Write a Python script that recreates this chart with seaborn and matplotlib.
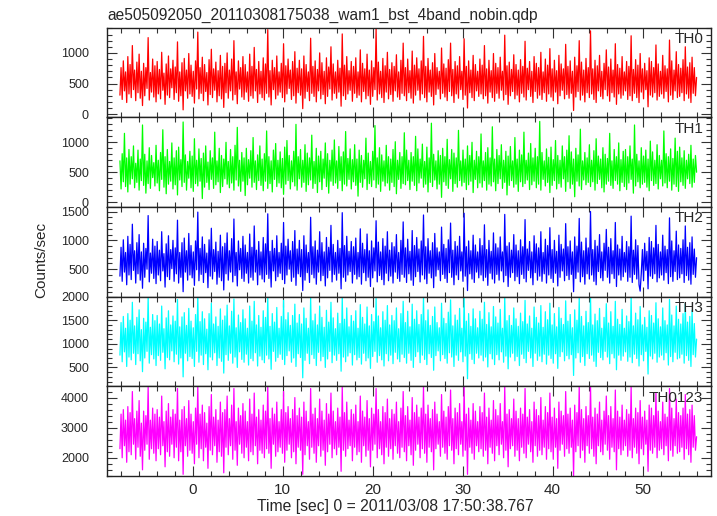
import numpy as np
import matplotlib
matplotlib.use("Agg")
import matplotlib.pyplot as plt
from matplotlib.ticker import MultipleLocator
import seaborn as sns

# light curve, time in sec from 2011/03/08 17:50:38.767
t_start = -8.08
t_stop = 56.0

title = "ae505092050_20110308175038_wam1_bst_4band_nobin.qdp"
band_names = ["TH0", "TH1", "TH2", "TH3", "TH0123"]
band_colors = ["#ff0000", "#00ff00", "#0000ff", "#00ffff", "#ff00ff"]

th0 = [
    310, 760, 240, 870, 380, 690, 190, 940, 330, 810, 270, 1120, 400, 720, 220, 850,
    350, 980, 260, 700, 140, 830, 300, 760, 420, 1250, 230, 680, 360, 900, 280, 790,
    200, 860, 330, 730, 250, 1010, 390, 670, 160, 820, 310, 950, 270, 740, 430, 880,
    240, 770, 350, 1180, 210, 690, 300, 840, 70, 910, 380, 720, 260, 990, 330, 800,
    290, 700, 180, 870, 410, 1340, 250, 760, 340, 930, 220, 810, 370, 680, 150, 890,
    320, 1060, 270, 740, 390, 850, 200, 710, 300, 960, 250, 780, 110, 830, 350, 1000,
    260, 720, 380, 900, 230, 1200, 320, 690, 170, 870, 410, 760, 280, 940, 240, 810,
    360, 690, 210, 980, 300, 780, 260, 1090, 380, 730, 190, 860, 330, 700, 270, 920,
    230, 820, 340, 1380, 280, 710, 150, 880, 400, 760, 250, 950, 310, 690, 360, 830,
    270, 1150, 200, 790, 330, 900, 420, 720, 240, 860, 300, 1020, 180, 750, 350, 880,
    310, 740, 90, 950, 260, 810, 370, 690, 220, 1240, 340, 780, 290, 870, 200, 730,
    380, 1000, 250, 840, 320, 700, 170, 920, 290, 770, 410, 1100, 230, 820, 340, 690,
    260, 880, 360, 750, 130, 1310, 300, 800, 240, 940, 330, 710, 390, 860, 210, 780,
    340, 920, 270, 690, 310, 1050, 200, 830, 370, 740, 250, 980, 300, 720, 160, 870,
    290, 760, 400, 1390, 230, 850, 330, 700, 270, 910, 190, 790, 360, 1010, 250, 730,
    320, 840, 210, 780, 380, 970, 280, 690, 240, 880, 340, 1160, 300, 760, 220, 900,
    350, 710, 260, 1030, 180, 800, 310, 920, 390, 740, 230, 870, 330, 1270, 270, 780,
    200, 910, 360, 720, 290, 840, 150, 990, 320, 760, 410, 700, 250, 1080, 340, 820,
    280, 750, 220, 890, 370, 1160, 300, 730, 190, 860, 330, 790, 260, 940, 400, 700,
    240, 1230, 310, 780, 100, 870, 350, 720, 270, 960, 220, 810, 380, 700, 290, 900,
    330, 800, 250, 1120, 300, 740, 180, 880, 360, 710, 270, 990, 210, 830, 340, 760,
    260, 930, 390, 700, 230, 1290, 320, 790, 160, 850, 300, 730, 370, 970, 250, 810,
    310, 720, 200, 890, 340, 780, 280, 1190, 230, 750, 400, 860, 290, 700, 190, 940,
    370, 830, 260, 760, 310, 1010, 240, 690, 350, 900, 210, 800, 330, 1070, 280, 740,
    220, 880, 360, 710, 170, 960, 300, 820, 390, 740, 250, 1140, 320, 780, 260, 870,
    340, 700, 60, 930, 280, 790, 370, 1200, 230, 850, 310, 720, 200, 910, 350, 760,
    270, 1360, 330, 740, 240, 880, 190, 790, 380, 960, 290, 700, 250, 830, 400, 1050,
    300, 770, 210, 900, 350, 720, 280, 1150, 160, 810, 330, 750, 260, 940, 310, 690,
    380, 860, 240, 780, 300, 1280, 220, 730, 340, 890, 270, 800, 190, 990, 360, 740,
    250, 830, 400, 710, 120, 920, 310, 860, 280, 760, 350, 1130, 230, 820, 290, 700,
    330, 960, 260, 790, 370, 740, 200, 1210, 310, 870, 240, 720, 380, 1020, 270, 810,
    290, 750, 350, 890, 220, 1100, 330, 770, 260, 840, 190, 930, 340, 760, 300, 600,
]
th1 = [
    690, 220, 810, 340, 1150, 260, 740, 170, 880, 300, 760, 390, 940, 240, 650, 330,
    870, 200, 720, 360, 1290, 280, 800, 150, 690, 310, 910, 230, 780, 410, 660, 270,
    950, 320, 700, 190, 830, 380, 1210, 250, 760, 140, 880, 300, 680, 350, 990, 220,
    740, 290, 860, 120, 920, 370, 710, 260, 1340, 330, 790, 200, 680, 400, 850, 240,
    770, 180, 1060, 310, 700, 270, 890, 350, 730, 60, 820, 250, 940, 330, 670, 210,
    860, 380, 740, 230, 1170, 290, 690, 340, 900, 160, 780, 260, 720, 390, 1000, 300,
    680, 240, 880, 320, 760, 200, 950, 370, 1250, 270, 700, 180, 830, 350, 740, 110,
    900, 290, 710, 400, 860, 250, 1080, 330, 690, 210, 790, 360, 940, 280, 720, 190,
    810, 350, 1190, 230, 760, 310, 690, 170, 870, 380, 980, 260, 700, 320, 840, 240,
    730, 130, 920, 300, 1030, 360, 780, 220, 690, 340, 850, 270, 1300, 200, 760, 390,
    880, 250, 700, 330, 960, 180, 820, 290, 740, 370, 1120, 230, 680, 310, 900, 160,
    770, 340, 850, 210, 720, 400, 990, 260, 810, 150, 700, 350, 870, 280, 1040, 320,
    690, 230, 930, 360, 760, 190, 840, 300, 1180, 270, 730, 380, 890, 220, 710, 340,
    960, 280, 720, 100, 870, 330, 780, 250, 700, 390, 1070, 210, 820, 310, 680, 260,
    850, 370, 1280, 240, 740, 300, 910, 180, 790, 350, 690, 270, 950, 320, 760, 200,
    720, 330, 880, 260, 1010, 140, 700, 380, 830, 230, 760, 310, 1160, 290, 870, 360,
    700, 210, 830, 350, 760, 280, 1100, 190, 890, 320, 720, 400, 970, 250, 680, 300,
    920, 170, 740, 330, 1320, 260, 800, 370, 690, 220, 860, 300, 780, 80, 900, 340,
    760, 280, 1050, 230, 710, 390, 880, 180, 820, 310, 740, 250, 1200, 360, 690, 270,
    870, 330, 720, 210, 940, 290, 780, 350, 1000, 160, 700, 380, 850, 240, 760, 320,
    1140, 250, 690, 360, 830, 200, 910, 300, 740, 270, 1260, 340, 720, 190, 880, 310,
    780, 390, 960, 230, 700, 330, 850, 120, 770, 280, 930, 360, 690, 250, 1080, 300,
    720, 180, 870, 340, 790, 260, 1170, 310, 700, 370, 820, 210, 980, 290, 740, 350,
    900, 240, 760, 300, 1350, 200, 830, 380, 690, 270, 890, 330, 750, 160, 920, 280,
    710, 360, 1030, 220, 780, 310, 700, 250, 940, 390, 760, 180, 870, 340, 1110, 230,
    840, 300, 720, 90, 900, 350, 790, 270, 1220, 210, 690, 370, 830, 290, 740, 330,
    960, 260, 700, 340, 860, 200, 1060, 310, 770, 380, 720, 240, 910, 170, 800, 300,
    730, 350, 1150, 280, 690, 230, 880, 360, 760, 300, 990, 190, 710, 330, 850, 260,
    880, 210, 760, 320, 940, 380, 720, 150, 1290, 270, 800, 340, 690, 240, 910, 300,
    770, 330, 870, 250, 720, 190, 1020, 360, 840, 280, 700, 310, 960, 220, 780, 390,
    700, 270, 1190, 320, 810, 240, 760, 350, 890, 200, 730, 300, 1070, 260, 850, 180,
    920, 340, 740, 280, 860, 230, 700, 390, 800, 310, 950, 250, 720, 330, 780, 500,
]
th2 = [
    380, 880, 290, 1010, 450, 790, 230, 1070, 400, 930, 320, 1280, 480, 820, 260, 960,
    420, 1100, 310, 800, 170, 950, 360, 860, 500, 1430, 280, 780, 430, 1020, 340, 900,
    250, 980, 400, 830, 300, 1150, 470, 770, 190, 940, 370, 1080, 320, 840, 510, 1000,
    290, 870, 420, 1350, 260, 790, 360, 960, 110, 1040, 450, 820, 310, 1120, 400, 910,
    350, 800, 220, 990, 490, 1490, 300, 860, 410, 1060, 270, 930, 440, 780, 180, 1010,
    380, 1210, 330, 840, 460, 970, 240, 810, 360, 1090, 300, 890, 140, 950, 420, 1130,
    310, 820, 450, 1030, 280, 1370, 390, 790, 210, 990, 490, 860, 340, 1070, 290, 920,
    430, 790, 260, 1110, 360, 880, 310, 1250, 450, 830, 230, 980, 400, 800, 330, 1050,
    280, 940, 410, 1460, 340, 810, 190, 1000, 470, 860, 300, 1080, 370, 790, 430, 950,
    320, 1310, 250, 900, 400, 1020, 500, 820, 290, 980, 360, 1170, 220, 850, 420, 1000,
    370, 840, 130, 1080, 310, 920, 440, 790, 270, 1400, 410, 890, 350, 990, 240, 830,
    450, 1150, 300, 960, 390, 800, 210, 1050, 350, 880, 480, 1260, 280, 930, 410, 790,
    310, 1000, 430, 860, 160, 1480, 360, 910, 290, 1070, 400, 810, 460, 980, 260, 890,
    410, 1040, 330, 790, 370, 1200, 240, 950, 440, 840, 300, 1110, 360, 820, 200, 990,
    350, 870, 470, 1340, 280, 970, 390, 800, 320, 1030, 230, 900, 430, 1150, 300, 830,
    380, 960, 260, 890, 450, 1100, 340, 790, 290, 1000, 410, 1320, 360, 870, 270, 1020,
    420, 810, 310, 1170, 220, 910, 370, 1050, 460, 850, 280, 990, 400, 1440, 330, 890,
    250, 1030, 430, 820, 350, 960, 180, 1120, 380, 870, 490, 800, 300, 1230, 410, 930,
    340, 860, 270, 1010, 440, 1300, 360, 830, 230, 980, 400, 900, 320, 1070, 470, 800,
    290, 1470, 380, 890, 130, 990, 420, 820, 330, 1090, 270, 920, 450, 800, 350, 1030,
    400, 910, 300, 1270, 360, 840, 220, 1000, 430, 810, 330, 1130, 260, 940, 410, 870,
    310, 1060, 470, 800, 280, 1450, 390, 900, 200, 960, 360, 830, 440, 1100, 300, 920,
    370, 820, 250, 1010, 410, 890, 340, 1360, 280, 850, 480, 980, 350, 800, 230, 1080,
    440, 940, 310, 870, 380, 1150, 290, 790, 420, 1020, 260, 910, 400, 1220, 340, 840,
    270, 1000, 430, 810, 210, 1090, 360, 930, 470, 850, 300, 1290, 390, 890, 320, 990,
    410, 800, 110, 1060, 340, 900, 450, 1380, 280, 970, 370, 820, 240, 1040, 420, 870,
    330, 1500, 400, 840, 290, 1000, 230, 900, 460, 1100, 350, 800, 300, 950, 480, 1190,
    360, 880, 260, 1030, 420, 820, 340, 1310, 200, 920, 400, 850, 310, 1070, 370, 790,
    450, 980, 290, 890, 360, 1420, 270, 830, 410, 1010, 330, 910, 230, 120, 430, 840,
    300, 950, 480, 810, 160, 1050, 380, 980, 340, 870, 420, 1260, 280, 930, 350, 800,
    400, 1090, 310, 900, 440, 840, 250, 1390, 370, 990, 290, 820, 460, 1160, 320, 920,
    350, 860, 420, 1010, 270, 1250, 390, 880, 310, 960, 240, 1060, 410, 850, 360, 700,
]
th3 = [
    760, 1450, 620, 1580, 830, 1330, 520, 1640, 720, 1500, 660, 1880, 800, 1380, 560, 1560,
    790, 1720, 640, 1300, 410, 1540, 700, 1460, 840, 1980, 590, 1350, 770, 1620, 680, 1490,
    540, 1600, 750, 1420, 650, 1800, 820, 1320, 470, 1550, 710, 1700, 660, 1400, 850, 1590,
    620, 1480, 780, 1940, 570, 1360, 700, 1570, 300, 1660, 800, 1390, 640, 1750, 730, 1480,
    690, 1340, 520, 1620, 840, 2000, 610, 1470, 760, 1680, 560, 1530, 790, 1310, 450, 1640,
    720, 1860, 660, 1420, 810, 1570, 540, 1370, 700, 1740, 630, 1500, 380, 1590, 770, 1820,
    650, 1380, 800, 1690, 590, 1950, 720, 1340, 500, 1610, 830, 1450, 670, 1720, 610, 1530,
    780, 1330, 550, 1800, 690, 1480, 640, 1900, 810, 1400, 530, 1600, 740, 1350, 660, 1700,
    600, 1560, 760, 1990, 680, 1370, 460, 1640, 840, 1460, 630, 1770, 710, 1330, 780, 1580,
    670, 1920, 560, 1510, 750, 1660, 850, 1390, 610, 1600, 700, 1840, 520, 1440, 790, 1620,
    710, 1420, 280, 1760, 650, 1540, 800, 1330, 580, 1970, 770, 1490, 690, 1630, 540, 1400,
    820, 1800, 640, 1560, 730, 1350, 500, 1710, 680, 1460, 840, 1880, 600, 1550, 760, 1320,
    650, 1650, 790, 1430, 420, 1990, 720, 1520, 620, 1760, 740, 1360, 810, 1600, 550, 1480,
    770, 1700, 660, 1330, 710, 1830, 570, 1560, 800, 1420, 640, 1780, 700, 1380, 480, 1620,
    730, 1470, 840, 1960, 610, 1590, 750, 1340, 660, 1680, 530, 1500, 790, 1810, 640, 1400,
    760, 1600, 580, 1490, 820, 1760, 680, 1320, 620, 1640, 780, 1900, 710, 1450, 590, 1690,
    800, 1360, 650, 1840, 500, 1520, 730, 1700, 830, 1410, 600, 1620, 760, 1990, 670, 1490,
    560, 1720, 790, 1390, 710, 1580, 440, 1780, 750, 1450, 850, 1340, 640, 1860, 770, 1540,
    690, 1430, 590, 1670, 810, 1930, 720, 1380, 520, 1610, 760, 1500, 650, 1750, 830, 1330,
    620, 1970, 740, 1480, 260, 1640, 790, 1370, 670, 1740, 580, 1530, 800, 1340, 700, 1690,
    760, 1520, 640, 1880, 720, 1410, 510, 1660, 790, 1360, 680, 1790, 560, 1570, 770, 1440,
    660, 1730, 830, 1330, 610, 1990, 740, 1490, 470, 1600, 720, 1390, 800, 1760, 640, 1530,
    730, 1370, 540, 1650, 780, 1470, 690, 1920, 600, 1420, 840, 1590, 700, 1330, 520, 1780,
    800, 1560, 650, 1440, 740, 1810, 620, 1350, 780, 1680, 570, 1510, 760, 1860, 690, 1400,
    590, 1640, 790, 1360, 480, 1770, 730, 1540, 830, 1410, 640, 1910, 750, 1480, 680, 1620,
    770, 1340, 330, 1720, 700, 1500, 810, 1960, 610, 1580, 730, 1380, 540, 1690, 790, 1450,
    690, 2000, 760, 1400, 630, 1630, 520, 1490, 820, 1750, 710, 1330, 660, 1560, 840, 1850,
    720, 1440, 580, 1680, 790, 1370, 700, 1900, 450, 1520, 760, 1410, 650, 1730, 740, 1330,
    830, 1590, 630, 1470, 720, 1980, 600, 1380, 780, 1650, 690, 1510, 530, 1790, 770, 1400,
    640, 1560, 840, 1350, 360, 1700, 740, 1600, 680, 1440, 800, 1870, 610, 1530, 720, 1360,
    760, 1760, 660, 1490, 810, 1400, 550, 1940, 730, 1610, 620, 1380, 820, 1800, 680, 1520,
    700, 1420, 780, 1640, 590, 1850, 750, 1460, 650, 1580, 520, 1710, 770, 1430, 720, 1100,
]
th0123 = [
    2300, 3450, 2000, 3600, 2400, 3250, 1850, 3700, 2200, 3500, 2100, 4200, 2450, 3300, 1950, 3550,
    2350, 3900, 2050, 3150, 1600, 3550, 2250, 3400, 2450, 4350, 1950, 3250, 2300, 3650, 2150, 3450,
    1900, 3600, 2300, 3350, 2100, 4050, 2400, 3200, 1700, 3550, 2200, 3800, 2050, 3350, 2450, 3600,
    2000, 3450, 2350, 4300, 1900, 3250, 2200, 3600, 1450, 3700, 2400, 3300, 2050, 3900, 2250, 3450,
    2150, 3200, 1800, 3650, 2450, 4350, 2000, 3450, 2300, 3750, 1900, 3500, 2350, 3150, 1650, 3700,
    2250, 4100, 2100, 3350, 2400, 3600, 1850, 3250, 2200, 3850, 2050, 3500, 1500, 3600, 2350, 4050,
    2100, 3300, 2400, 3750, 1950, 4300, 2250, 3200, 1750, 3650, 2450, 3400, 2150, 3800, 2000, 3550,
    2350, 3200, 1900, 3950, 2200, 3450, 2100, 4150, 2400, 3350, 1800, 3600, 2250, 3250, 2150, 3750,
    2000, 3550, 2300, 4350, 2150, 3300, 1650, 3650, 2450, 3450, 2050, 3850, 2200, 3200, 2350, 3600,
    2150, 4200, 1850, 3500, 2250, 3700, 2450, 3300, 2000, 3600, 2200, 4000, 1800, 3400, 2350, 3650,
    2250, 3350, 1450, 3850, 2100, 3550, 2400, 3200, 1950, 4300, 2350, 3450, 2150, 3650, 1850, 3300,
    2400, 3950, 2050, 3550, 2250, 3250, 1750, 3800, 2200, 3450, 2450, 4150, 2000, 3550, 2300, 3200,
    2100, 3650, 2350, 3350, 1550, 4350, 2250, 3500, 2050, 3850, 2300, 3250, 2400, 3600, 1900, 3450,
    2350, 3750, 2100, 3200, 2200, 4050, 1850, 3550, 2400, 3350, 2050, 3900, 2250, 3300, 1700, 3650,
    2250, 3450, 2450, 4300, 2000, 3600, 2300, 3200, 2100, 3700, 1800, 3500, 2350, 3950, 2050, 3300,
    2300, 3600, 1950, 3450, 2400, 3850, 2150, 3200, 2000, 3650, 2350, 4200, 2200, 3400, 1900, 3700,
    2400, 3250, 2100, 4000, 1750, 3500, 2250, 3750, 2450, 3350, 2000, 3650, 2300, 4350, 2150, 3450,
    1850, 3750, 2350, 3300, 2200, 3600, 1600, 3850, 2300, 3450, 2450, 3200, 2050, 4100, 2350, 3550,
    2150, 3350, 1950, 3700, 2400, 4250, 2250, 3300, 1800, 3650, 2300, 3500, 2100, 3800, 2450, 3200,
    2050, 4350, 2250, 3450, 1450, 3650, 2350, 3250, 2150, 3800, 1950, 3550, 2400, 3200, 2200, 3700,
    2300, 3500, 2050, 4150, 2250, 3350, 1800, 3650, 2350, 3250, 2150, 3900, 1900, 3600, 2400, 3400,
    2100, 3800, 2450, 3200, 2000, 4350, 2250, 3450, 1700, 3600, 2300, 3300, 2400, 3950, 2050, 3550,
    2250, 3300, 1900, 3650, 2350, 3450, 2150, 4300, 2000, 3350, 2450, 3600, 2200, 3200, 1850, 3850,
    2400, 3600, 2050, 3400, 2250, 4000, 2100, 3250, 2350, 3700, 1950, 3500, 2300, 4150, 2200, 3350,
    1950, 3650, 2350, 3300, 1650, 3850, 2250, 3550, 2450, 3400, 2050, 4200, 2300, 3450, 2150, 3650,
    2350, 3250, 1400, 3750, 2200, 3500, 2400, 4350, 2000, 3600, 2250, 3300, 1850, 3700, 2400, 3400,
    2150, 4400, 2300, 3350, 2050, 3650, 1800, 3450, 2400, 3850, 2200, 3250, 2100, 3550, 2450, 4050,
    2250, 3400, 1950, 3700, 2350, 3300, 2200, 4250, 1600, 3550, 2300, 3350, 2100, 3750, 2250, 3250,
    2400, 3600, 2050, 3450, 2250, 4350, 2000, 3300, 2350, 3650, 2150, 3500, 1800, 3900, 2300, 3350,
    2100, 3550, 2450, 3250, 1550, 3750, 2250, 3650, 2150, 3400, 2350, 4150, 2000, 3550, 2250, 3200,
    2300, 3850, 2100, 3450, 2400, 3350, 1900, 4300, 2250, 3650, 2050, 3300, 2400, 3950, 2150, 3500,
    2200, 3400, 2350, 3650, 1950, 4100, 2300, 3450, 2100, 3600, 1850, 3750, 2350, 3400, 2250, 2700,
]
bands = [th0, th1, th2, th3, th0123]

# y ranges and tick steps per panel
y_limits = [(-50, 1415), (-80, 1420), (25, 1580), (100, 2000), (1394, 4374)]
y_major = [500, 500, 500, 500, 1000]
y_minor = [100, 100, 100, 100, 200]

sns.set_style("ticks")
plt.rcParams["font.family"] = ["Liberation Sans", "DejaVu Sans"]

fig, axes = plt.subplots(5, 1, figsize=(7.17, 5.16), dpi=100, sharex=True,
                         gridspec_kw={"hspace": 0})
fig.subplots_adjust(left=0.1492, right=0.9916, top=0.9467, bottom=0.0775)

for i, ax in enumerate(axes):
    vals = bands[i]
    t = np.linspace(t_start, t_stop, len(vals))
    sns.lineplot(x=t, y=vals, ax=ax, color=band_colors[i], linewidth=0.9,
                 estimator=None, sort=False)
    ax.set_ylim(*y_limits[i])
    ax.set_xlim(-9.52, 57.6)
    ax.yaxis.set_major_locator(MultipleLocator(y_major[i]))
    ax.yaxis.set_minor_locator(MultipleLocator(y_minor[i]))
    ax.xaxis.set_major_locator(MultipleLocator(10))
    ax.xaxis.set_minor_locator(MultipleLocator(2))
    ax.tick_params(which="both", direction="in", top=True, right=True,
                   color="#333333", width=0.8)
    ax.tick_params(which="major", length=7)
    ax.tick_params(which="minor", length=3.5)
    ax.tick_params(axis="y", labelsize=9, pad=13)
    ax.tick_params(axis="x", labelsize=11, pad=5)
    for sp in ax.spines.values():
        sp.set_linewidth(1.0)
        sp.set_color("#222222")
    ax.set_ylabel("")
    ax.text(0.987, 0.95, band_names[i], transform=ax.transAxes,
            ha="right", va="top", fontsize=11)

fig.text(0.1492, 0.961, title, ha="left", va="baseline", fontsize=11.2)
fig.text(0.058, 0.497, "Counts/sec", rotation=90, ha="center", va="center",
         fontsize=11)
fig.text(0.552, 0.01, "Time [sec] 0 = 2011/03/08 17:50:38.767",
         ha="center", va="baseline", fontsize=11.3)

fig.savefig("out.png", dpi=100)
